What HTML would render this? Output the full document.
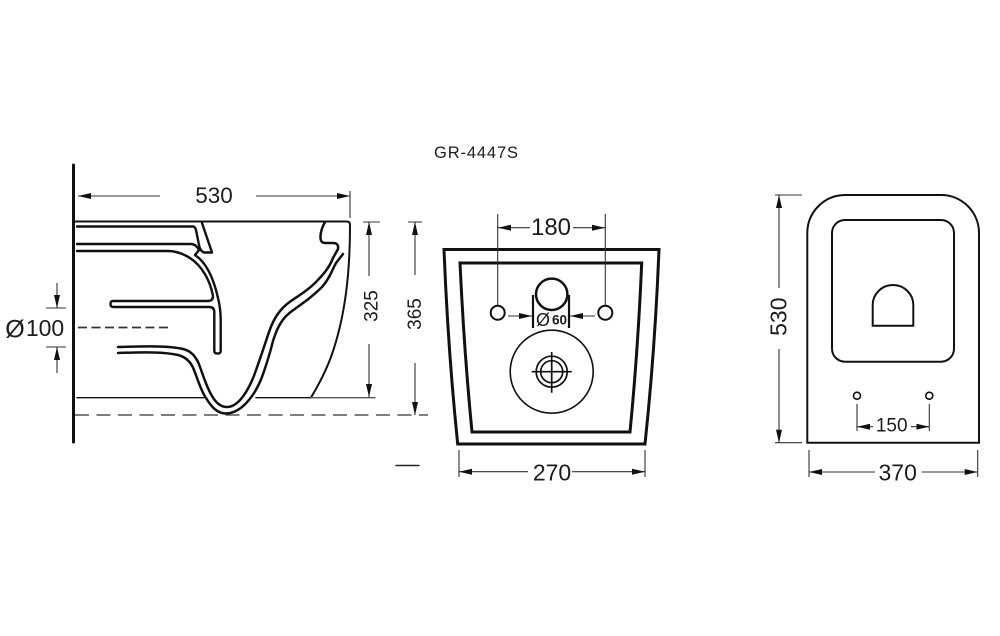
<!DOCTYPE html>
<html>
<head>
<meta charset="utf-8">
<style>
html,body{margin:0;padding:0;background:#fff;width:1000px;height:636px;overflow:hidden}
svg{display:block}
text{font-family:"Liberation Sans",sans-serif;fill:#1c1c1c;text-anchor:middle;dominant-baseline:central}
</style>
</head>
<body>
<svg width="1000" height="636" viewBox="0 0 1000 636" xmlns="http://www.w3.org/2000/svg">
<defs>
<marker id="a" viewBox="0 0 13 7" refX="13" refY="3.5" markerWidth="13" markerHeight="7" markerUnits="userSpaceOnUse" orient="auto-start-reverse"><path d="M0 0.5L13 3.5L0 6.5Z" fill="#111"/></marker>
</defs>
<text x="476" y="153" style="font-size:16.5px" textLength="84" lengthAdjust="spacing">GR-4447S</text>

<!-- side view -->
<g fill="none" stroke="#111" stroke-linecap="round" stroke-linejoin="round">
<path d="M73.500 165V442" stroke-width="3"/>
<path d="M75 221.500H347Q350 221.500 350 225C350 270 346 315 331 357C325 373 318 386 311 397.500" stroke-width="2"/>
<path d="M77 397.700H204M256 397.700H311" stroke-width="1.400"/>
<path d="M311 397.700H375" stroke-width="1.400" stroke="#555"/>
<path d="M77 226.500H193Q195 226.500 196 230L199 245Q200 251 204 252.500H212L202 223" stroke-width="2.400"/>
<path d="M77 244H191Q196 244 199 250L195 255C207 263 214 280 218 298C220 306 220.700 312 220.700 320V351Q220.700 353.500 217.500 353.500Q214.300 353.500 214.300 351V312Q214.300 307 209 307H113Q110.500 307 110.500 304Q110.500 301 113 301H208Q213 301 213 296C210 280 202 266 190 258C182 253 175 251 168 251H77" stroke-width="2.400"/>
<path d="M118 347C150 346 170 346 183 349C192 351 197 358 200 367C204 378 207 388 212 396C216 403 221 407 227 407C238 407 248 392 255 373C260 359 263 350 267 338C271 325 276 313 287 304C297 296 305 293 315 283C325 273 330 266 333 258L338 249Q339 243 333 243H325Q320 243 320.500 236Q321 229 325 222" stroke-width="2.500"/>
<path d="M118 353C145 352 165 352 178 355C186 357 191 362 194 370C198 380 201 391 206 398C212 408 218 413.500 226 413.500C242 413 255 395 262 377C266 366 270 353 273 341C277 328 282 318 292 311C303 303 312 297 322 287C330 278 332 270 336 263L343 254" stroke-width="2.500"/>
<path d="M78 327.500H170" stroke="#333" stroke-width="1.800" stroke-dasharray="9 4.500" stroke-linecap="butt"/>
<path d="M75 415H428" stroke="#333" stroke-width="1.200" stroke-dasharray="14 7.500" stroke-linecap="butt"/>
<path d="M396 465.500H419" stroke="#222" stroke-width="1.400"/>
</g>
<g fill="none" stroke="#333" stroke-width="1.100">
<path d="M160 196H78" marker-end="url(#a)"/>
<path d="M256 196H350" marker-end="url(#a)"/>
<path d="M350 191V218"/>
<path d="M57 283V308" marker-end="url(#a)"/>
<path d="M57 373V347" marker-end="url(#a)"/>
<path d="M46 308H66M46 347H66"/>
<path d="M363 222H380M408 222H422"/>
<path d="M369 276V222" marker-end="url(#a)"/>
<path d="M369 344V397" marker-end="url(#a)"/>
<path d="M415 275V222" marker-end="url(#a)"/>
<path d="M415 363V415" marker-end="url(#a)"/>
</g>
<text x="214" y="195.500" style="font-size:22.500px">530</text>
<text x="15" y="329.500" style="font-size:25px">Ø</text>
<text x="45" y="328" style="font-size:23px">100</text>
<text transform="translate(372 306) rotate(-90)" x="0" y="0" style="font-size:19px">325</text>
<text transform="translate(415.500 314) rotate(-90)" x="0" y="0" style="font-size:19px">365</text>

<!-- rear view -->
<g fill="none" stroke="#111" stroke-linejoin="miter">
<path d="M444 249.500H659Q655 350 645 444H457.700Q448 350 444 249.500Z" stroke-width="3"/>
<path d="M460 263H641.700Q638 350 630 432H472Q464 350 460 263Z" stroke-width="3"/>
<circle cx="551.700" cy="294.300" r="15.700" stroke-width="2.500"/>
<path d="M533 295V328M569 295V328" stroke-width="2.200"/>
<circle cx="497.700" cy="312.700" r="7" stroke-width="2"/>
<circle cx="605.300" cy="312.700" r="7" stroke-width="2"/>
<circle cx="551.700" cy="371.700" r="41.500" stroke-width="1.600"/>
<circle cx="551.700" cy="371.700" r="15.500" stroke-width="1.700"/>
<circle cx="551.700" cy="371.700" r="11" stroke-width="1.700"/>
<path d="M531.700 371.700H571.700M551.700 352V392.700" stroke-width="1.700"/>
</g>
<g fill="none" stroke="#333" stroke-width="1.100">
<path d="M497.700 214V305M605.300 214V305"/>
<path d="M530 227.700H498" marker-end="url(#a)"/>
<path d="M573 227.700H605" marker-end="url(#a)"/>
<path d="M508 316H532" marker-end="url(#a)"/>
<path d="M595 316H570" marker-end="url(#a)"/>
<path d="M459 450V477M645 450V477"/>
<path d="M528 471.700H459" marker-end="url(#a)"/>
<path d="M572 471.700H645" marker-end="url(#a)"/>
</g>
<text x="551" y="227.500" style="font-size:24px">180</text>
<text x="543" y="320" style="font-size:18px">Ø</text>
<text x="559.500" y="320" style="font-size:13.500px;font-weight:bold">60</text>
<text x="552" y="472.500" style="font-size:23px">270</text>

<!-- top view -->
<g fill="none" stroke="#111">
<path d="M807.300 442.700V233A38 38 0 0 1 845 195H941A38 38 0 0 1 979 233V442.700Z" stroke-width="2"/>
<rect x="832" y="220" width="122" height="141.700" rx="13" ry="13" stroke-width="2"/>
<path d="M872.700 325.700V305A20.300 20 0 0 1 913.300 305V325.700Z" stroke-width="2"/>
<circle cx="857" cy="395.700" r="3.500" stroke-width="1.600"/>
<circle cx="929.300" cy="395.700" r="3.500" stroke-width="1.600"/>
</g>
<g fill="none" stroke="#333" stroke-width="1.100">
<path d="M857 404V431M929.300 404V431"/>
<path d="M873 426.700H857" marker-end="url(#a)"/>
<path d="M911 426.700H929.300" marker-end="url(#a)"/>
<path d="M775 195H802M775 442.700H802"/>
<path d="M779 288V195" marker-end="url(#a)"/>
<path d="M779 349V442.700" marker-end="url(#a)"/>
<path d="M809 450V477M977.700 450V477"/>
<path d="M875 472H809" marker-end="url(#a)"/>
<path d="M921.700 472H977.700" marker-end="url(#a)"/>
</g>
<text x="891.700" y="426" style="font-size:19px">150</text>
<text transform="translate(778.500 316.700) rotate(-90)" x="0" y="0" style="font-size:23px">530</text>
<text x="897.700" y="472.500" style="font-size:23px">370</text>
</svg>
</body>
</html>
